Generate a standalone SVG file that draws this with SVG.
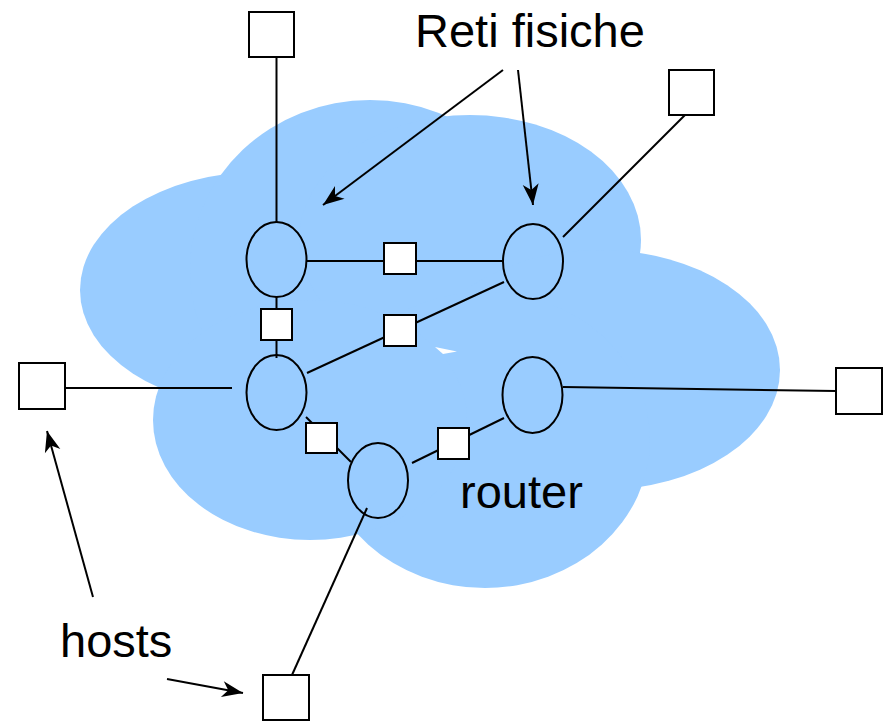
<svg xmlns="http://www.w3.org/2000/svg" width="886" height="722" viewBox="0 0 886 722">
<style>
.cloud{fill:#99CCFF;stroke:none}
.rt{fill:none;stroke:#000;stroke-width:2}
.box{fill:#fff;stroke:#000;stroke-width:2}
.ln{fill:none;stroke:#000;stroke-width:2}
.lbl{font-family:"Liberation Sans",Arial,sans-serif;font-size:47px;fill:#000}
</style>
<defs>
<marker id="ah" viewBox="-22 -9 24 18" refX="0" refY="0" markerWidth="24" markerHeight="18" markerUnits="userSpaceOnUse" orient="auto">
<path d="M0,0 L-21,-8 L-15,0 L-21,8 Z" fill="#000"/>
</marker>
</defs>
<g id="cloud">
<ellipse class="cloud" cx="260" cy="290" rx="180" ry="118"/>
<ellipse class="cloud" cx="370" cy="270" rx="180" ry="170"/>
<ellipse class="cloud" cx="470" cy="240" rx="171" ry="125"/>
<ellipse class="cloud" cx="600" cy="370" rx="180" ry="120"/>
<ellipse class="cloud" cx="485" cy="440" rx="165" ry="148"/>
<ellipse class="cloud" cx="310" cy="420" rx="157" ry="120"/>
<polygon points="435,347 457,351.5 443,354" fill="#fff"/>
</g>
<g id="connectors">
<line class="ln" x1="276.5" y1="57" x2="276.5" y2="222"/>
<line class="ln" x1="307" y1="261" x2="503" y2="261"/>
<line class="ln" x1="276.5" y1="297" x2="276.5" y2="358"/>
<line class="ln" x1="307" y1="373" x2="504" y2="282"/>
<line class="ln" x1="685" y1="115" x2="563" y2="237"/>
<line class="ln" x1="65" y1="388" x2="232" y2="388"/>
<line class="ln" x1="563" y1="387" x2="836" y2="391"/>
<line class="ln" x1="306" y1="417" x2="351" y2="462"/>
<line class="ln" x1="412" y1="463" x2="504" y2="418"/>
<line class="ln" x1="367" y1="508" x2="292" y2="675"/>
<line class="ln" x1="503" y1="70" x2="323" y2="205" marker-end="url(#ah)"/>
<line class="ln" x1="518" y1="70" x2="533" y2="205" marker-end="url(#ah)"/>
<line class="ln" x1="93" y1="597" x2="47" y2="431" marker-end="url(#ah)"/>
<line class="ln" x1="167" y1="679" x2="243" y2="693" marker-end="url(#ah)"/>
</g>
<g id="router1"><ellipse class="rt" cx="276.5" cy="259.5" rx="30" ry="37.5"/></g>
<g id="router2"><ellipse class="rt" cx="533" cy="261.5" rx="30" ry="37.5"/></g>
<g id="router3"><ellipse class="rt" cx="276.5" cy="392.5" rx="30" ry="37.5"/></g>
<g id="router4"><ellipse class="rt" cx="532.5" cy="395" rx="30" ry="38"/></g>
<g id="router5"><ellipse class="rt" cx="378" cy="480.5" rx="30" ry="37.5"/></g>
<g id="net1"><rect class="box" x="384" y="243" width="32" height="31"/></g>
<g id="net2"><rect class="box" x="261" y="309" width="31" height="31"/></g>
<g id="net3"><rect class="box" x="384" y="315" width="32" height="31"/></g>
<g id="net4"><rect class="box" x="306" y="423" width="31" height="30"/></g>
<g id="net5"><rect class="box" x="438" y="428" width="31" height="31"/></g>
<g id="host1"><rect class="box" x="249" y="12" width="45" height="45"/></g>
<g id="host2"><rect class="box" x="669" y="70" width="45" height="45"/></g>
<g id="host3"><rect class="box" x="19" y="363" width="46" height="46"/></g>
<g id="host4"><rect class="box" x="836" y="368" width="46" height="46"/></g>
<g id="host5"><rect class="box" x="263" y="675" width="46" height="45"/></g>
<g id="labels">
<text class="lbl" x="415" y="47">Reti fisiche</text>
<text class="lbl" x="60" y="657">hosts</text>
<text class="lbl" x="460" y="508">router</text>
</g>
</svg>
